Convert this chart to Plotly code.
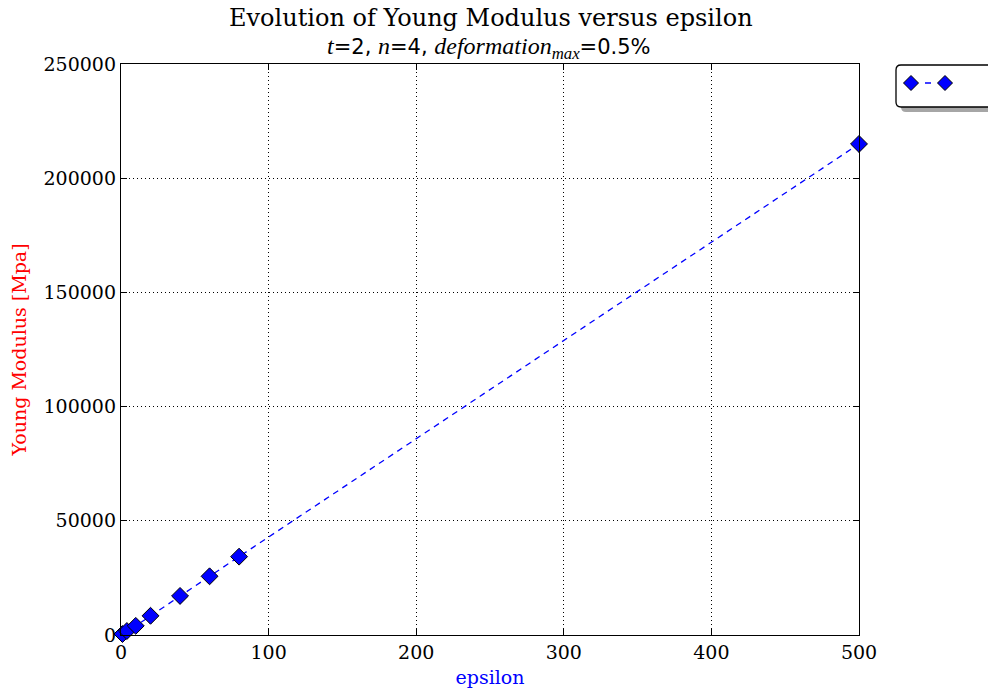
import plotly.graph_objects as go

epsilon = [1, 4, 10, 20, 40, 60, 80, 500]
young_modulus = [430, 1750, 4000, 8400, 17100, 25700, 34300, 215000]
x_ticks = [0, 100, 200, 300, 400, 500]
y_ticks = [0, 50000, 100000, 150000, 200000, 250000]

SERIF = "DejaVu Serif"
SANS = "DejaVu Sans"
W, H = 988, 695
L, R, T, B = 121, 859, 64, 635


def px(xp):
    return (xp - L) / (R - L)


def py(yp):
    return (B - yp) / (B - T)


fig = go.Figure()
fig.add_trace(go.Scatter(
    x=epsilon, y=young_modulus, mode="lines+markers", name="",
    line=dict(color="blue", width=1.3, dash="6px,5px"),
    marker=dict(symbol="diamond", size=13, color="blue", line=dict(color="black", width=1)),
    cliponaxis=False, showlegend=False,
))

axis_common = dict(
    showline=True, linecolor="black", linewidth=1.3, mirror="ticks",
    ticks="inside", ticklen=6, tickcolor="black",
    showgrid=True, gridcolor="black", griddash="1px,3px", gridwidth=1,
    zeroline=False, automargin=False,
    tickfont=dict(family=SERIF, size=19, color="black"),
)

fig.update_xaxes(range=[0, 500], tickvals=x_ticks, ticktext=[str(v) for v in x_ticks],
                 title=dict(text="epsilon", font=dict(family=SERIF, size=19, color="blue"), standoff=8),
                 **axis_common)
fig.update_yaxes(range=[0, 250000], tickvals=y_ticks, ticktext=[str(v) for v in y_ticks],
                 title=dict(text="Young Modulus [Mpa]", font=dict(family=SERIF, size=19, color="red"), standoff=11),
                 **axis_common)

fig.update_layout(
    width=W, height=H,
    margin=dict(l=L, r=W - R, t=T, b=H - B),
    paper_bgcolor="white", plot_bgcolor="white",
    showlegend=False,
    font=dict(family=SERIF),
)

# title (two lines)
fig.add_annotation(text="Evolution of Young Modulus versus epsilon",
                   xref="paper", yref="paper", x=px(491), y=py(18),
                   xanchor="center", yanchor="middle", showarrow=False,
                   font=dict(family=SERIF, size=24, color="black"))
sans = '<span style="font-family:DejaVu Sans;font-size:21px">%s</span>'
line2 = "<i>t</i>" + (sans % "=2, ") + "<i>n</i>" + (sans % "=4, ") + "<i>deformation</i>" + \
    "<sub><i>max</i></sub>" + (sans % "=0.5%")
fig.add_annotation(text=line2,
                   xref="paper", yref="paper", x=px(489), y=py(48),
                   xanchor="center", yanchor="middle", showarrow=False,
                   font=dict(family="Liberation Serif", size=24, color="black"))


def rounded(x0, y0, x1, y1, r):
    pts = [
        f"M {px(x0 + r)},{py(y0)}",
        f"L {px(x1 - r)},{py(y0)}",
        f"Q {px(x1)},{py(y0)} {px(x1)},{py(y0 + r)}",
        f"L {px(x1)},{py(y1 - r)}",
        f"Q {px(x1)},{py(y1)} {px(x1 - r)},{py(y1)}",
        f"L {px(x0 + r)},{py(y1)}",
        f"Q {px(x0)},{py(y1)} {px(x0)},{py(y1 - r)}",
        f"L {px(x0)},{py(y0 + r)}",
        f"Q {px(x0)},{py(y0)} {px(x0 + r)},{py(y0)}",
        "Z",
    ]
    return " ".join(pts)


# legend box (matplotlib-style with shadow)
fig.add_shape(type="path", xref="paper", yref="paper", path=rounded(901, 70, 1000, 112, 5),
              fillcolor="#a6a6a6", line=dict(width=0), layer="above")
fig.add_shape(type="path", xref="paper", yref="paper", path=rounded(896, 65, 996, 107, 5),
              fillcolor="white", line=dict(color="black", width=1.3), layer="above")
fig.add_shape(type="line", xref="paper", yref="paper", x0=px(911), x1=px(945), y0=py(83), y1=py(83),
              line=dict(color="blue", width=1.3, dash="6px,8px"), layer="above")


def diamond(cx, cy, h):
    return (f"M {px(cx)},{py(cy - h)} L {px(cx + h)},{py(cy)} "
            f"L {px(cx)},{py(cy + h)} L {px(cx - h)},{py(cy)} Z")


for cx in (911, 945):
    fig.add_shape(type="path", xref="paper", yref="paper", path=diamond(cx, 83, 7.5),
                  fillcolor="blue", line=dict(color="black", width=1), layer="above")

fig.write_html("out.html", config={"displayModeBar": False},
               post_script="document.body.style.margin='0';document.body.style.overflow='hidden';")
